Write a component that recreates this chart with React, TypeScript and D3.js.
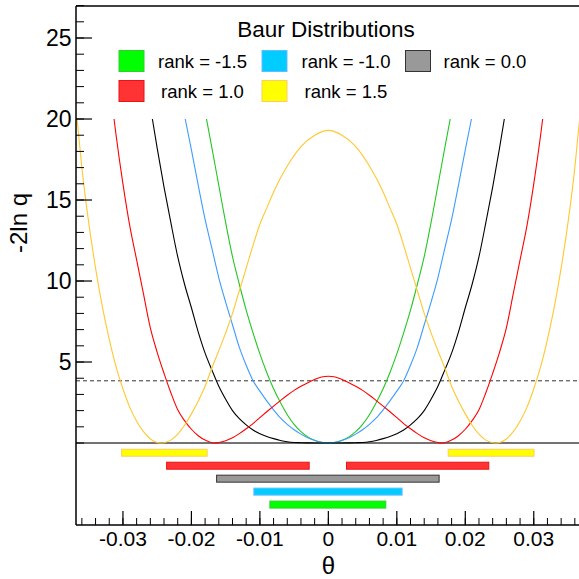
import React from 'react'
import * as d3 from 'd3'

/* canvas 579 x 579, frame runs off the right edge like the original */
const width = 579
const height = 579
const frame = { left: 76, top: 6, bottom: 525, right: 581 }
const font = '"Liberation Sans", Arial, Helvetica, sans-serif'

/* -2ln q curves, [theta, value] */
const rankM15: [number, number][] = [
    [-0.0178, 20], [-0.017, 18.2], [-0.016, 15.9], [-0.015, 13.6], [-0.014, 11.5], [-0.013, 9.8],
    [-0.012, 8.2], [-0.011, 6.8], [-0.01, 5.5], [-0.009, 4.35], [-0.008, 3.35], [-0.007, 2.5],
    [-0.006, 1.75], [-0.005, 1.15], [-0.004, 0.7], [-0.003, 0.38], [-0.002, 0.17], [-0.001, 0.04],
    [0, 0],
    [0.001, 0.04], [0.002, 0.17], [0.003, 0.38], [0.004, 0.7], [0.005, 1.15], [0.006, 1.75],
    [0.007, 2.5], [0.008, 3.35], [0.009, 4.35], [0.01, 5.5], [0.011, 6.8], [0.012, 8.2],
    [0.013, 9.8], [0.014, 11.5], [0.015, 13.6], [0.016, 15.9], [0.017, 18.2], [0.0178, 20],
]
const rankM10: [number, number][] = [
    [-0.0209, 20], [-0.02, 18.1], [-0.019, 15.9], [-0.018, 13.8], [-0.017, 12.0], [-0.016, 10.2],
    [-0.015, 8.7], [-0.014, 7.3], [-0.013, 5.9], [-0.012, 4.8], [-0.011, 3.85], [-0.01, 3.2],
    [-0.009, 2.6], [-0.008, 2.05], [-0.007, 1.55], [-0.006, 1.15], [-0.005, 0.82], [-0.004, 0.55],
    [-0.003, 0.33], [-0.002, 0.16], [-0.001, 0.04], [0, 0],
    [0.001, 0.04], [0.002, 0.16], [0.003, 0.33], [0.004, 0.55], [0.005, 0.82], [0.006, 1.15],
    [0.007, 1.55], [0.008, 2.05], [0.009, 2.6], [0.01, 3.2], [0.011, 3.85], [0.012, 4.8],
    [0.013, 5.9], [0.014, 7.3], [0.015, 8.7], [0.016, 10.2], [0.017, 12.0], [0.018, 13.8],
    [0.019, 15.9], [0.02, 18.1], [0.0209, 20],
]
const rank00: [number, number][] = [
    [-0.0257, 20], [-0.025, 18.2], [-0.024, 15.8], [-0.023, 13.6], [-0.022, 11.5], [-0.021, 9.8],
    [-0.02, 8.35], [-0.019, 6.85], [-0.018, 5.55], [-0.017, 4.5], [-0.016, 3.5], [-0.015, 2.7],
    [-0.014, 2.0], [-0.013, 1.5], [-0.012, 1.12], [-0.011, 0.8], [-0.01, 0.57], [-0.009, 0.4],
    [-0.008, 0.27], [-0.007, 0.16], [-0.006, 0.08], [-0.005, 0.035], [-0.004, 0.02], [-0.003, 0.01],
    [-0.002, 0.003], [0, 0], [0.002, 0.003], [0.003, 0.01], [0.004, 0.02], [0.005, 0.035],
    [0.006, 0.08], [0.007, 0.16], [0.008, 0.27], [0.009, 0.4], [0.01, 0.57], [0.011, 0.8],
    [0.012, 1.12], [0.013, 1.5], [0.014, 2.0], [0.015, 2.7], [0.016, 3.5], [0.017, 4.5],
    [0.018, 5.55], [0.019, 6.85], [0.02, 8.35], [0.021, 9.8], [0.022, 11.5], [0.023, 13.6],
    [0.024, 15.8], [0.025, 18.2], [0.0257, 20],
]
const rankP10: [number, number][] = [
    [-0.0313, 20], [-0.031, 19.0], [-0.03, 16.0], [-0.029, 13.4], [-0.028, 11.3], [-0.027, 9.2],
    [-0.026, 7.1], [-0.025, 5.6], [-0.024, 4.3], [-0.023, 3.1], [-0.022, 2.05], [-0.021, 1.38],
    [-0.02, 0.85], [-0.019, 0.45], [-0.018, 0.18], [-0.017, 0.02], [-0.0166, 0], [-0.016, 0.03],
    [-0.015, 0.14], [-0.014, 0.32], [-0.013, 0.58], [-0.012, 0.88], [-0.011, 1.2], [-0.01, 1.57],
    [-0.009, 1.93], [-0.008, 2.28], [-0.007, 2.62], [-0.006, 2.95], [-0.005, 3.25], [-0.004, 3.5],
    [-0.003, 3.72], [-0.002, 3.92], [-0.001, 4.08], [0, 4.12],
    [0.001, 4.08], [0.002, 3.92], [0.003, 3.72], [0.004, 3.5], [0.005, 3.25], [0.006, 2.95],
    [0.007, 2.62], [0.008, 2.28], [0.009, 1.93], [0.01, 1.57], [0.011, 1.2], [0.012, 0.88],
    [0.013, 0.58], [0.014, 0.32], [0.015, 0.14], [0.016, 0.03], [0.0166, 0], [0.017, 0.02],
    [0.018, 0.18], [0.019, 0.45], [0.02, 0.85], [0.021, 1.38], [0.022, 2.05], [0.023, 3.1],
    [0.024, 4.3], [0.025, 5.6], [0.026, 7.1], [0.027, 9.2], [0.028, 11.3], [0.029, 13.4],
    [0.03, 16.0], [0.031, 19.0], [0.0313, 20],
]
const rankP15: [number, number][] = [
    [-0.0367, 20], [-0.036, 17.0], [-0.035, 13.6], [-0.034, 10.8], [-0.033, 8.4], [-0.032, 6.4],
    [-0.031, 4.7], [-0.03, 3.35], [-0.029, 2.2], [-0.028, 1.35], [-0.027, 0.7], [-0.026, 0.25],
    [-0.025, 0.03], [-0.0245, 0], [-0.024, 0.02], [-0.023, 0.18], [-0.022, 0.55], [-0.021, 1.1],
    [-0.02, 1.8], [-0.019, 2.6], [-0.018, 3.5], [-0.017, 4.65], [-0.016, 5.7], [-0.015, 6.8],
    [-0.014, 8.0], [-0.013, 9.4], [-0.012, 10.8], [-0.011, 12.2], [-0.01, 13.5], [-0.009, 14.5],
    [-0.008, 15.5], [-0.006, 17.1], [-0.004, 18.3], [-0.002, 19.0], [0, 19.3],
    [0.002, 19.0], [0.004, 18.3], [0.006, 17.1], [0.008, 15.5], [0.009, 14.5], [0.01, 13.5],
    [0.011, 12.2], [0.012, 10.8], [0.013, 9.4], [0.014, 8.0], [0.015, 6.8], [0.016, 5.7],
    [0.017, 4.65], [0.018, 3.5], [0.019, 2.6], [0.02, 1.8], [0.021, 1.1], [0.022, 0.55],
    [0.023, 0.18], [0.024, 0.02], [0.0245, 0], [0.025, 0.03], [0.026, 0.25], [0.027, 0.7],
    [0.028, 1.35], [0.029, 2.2], [0.03, 3.35], [0.031, 4.7], [0.032, 6.4], [0.033, 8.4],
    [0.034, 10.8], [0.035, 13.6], [0.036, 17.0], [0.0367, 20],
]

/* 95% intervals (where -2ln q < 3.84) shown as bars under the axis */
const intervalsM15 = [[-0.00854, 0.00839]]
const intervalsM10 = [[-0.01088, 0.01077]]
const intervals00 = [[-0.01632, 0.01618]]
const intervalsP10 = [[-0.02362, -0.0028], [0.00265, 0.02343]]
const intervalsP15 = [[-0.0302, -0.0177], [0.0175, 0.03004]]

const rankLabels = ['rank = -1.5', 'rank = -1.0', 'rank = 0.0', 'rank = 1.0', 'rank = 1.5']
const threshold = 3.84

const series = [
    { label: rankLabels[0], data: rankM15, bars: intervalsM15, line: '#22c822', fill: '#00ff00', edge: '#33cc33' },
    { label: rankLabels[1], data: rankM10, bars: intervalsM10, line: '#3d9cff', fill: '#00ccff', edge: '#66bbff' },
    { label: rankLabels[2], data: rank00, bars: intervals00, line: '#000000', fill: '#999999', edge: '#333333' },
    { label: rankLabels[3], data: rankP10, bars: intervalsP10, line: '#ff0000', fill: '#ff3333', edge: '#ee1111' },
    { label: rankLabels[4], data: rankP15, bars: intervalsP15, line: '#ffc830', fill: '#ffff00', edge: '#ffcc66' },
]

const xMajor = [-0.03, -0.02, -0.01, 0, 0.01, 0.02, 0.03]
const xLabels = ['-0.03', '-0.02', '-0.01', '0', '0.01', '0.02', '0.03']
const yMajor = [5, 10, 15, 20, 25]

/* legend slots: box left / text centre per column, row tops */
const legendCols = [119, 262, 405.5]
const legendTextCols = [202.5, 346, 485]
const legendRows = [50.5, 80.5]

export default function App() {
    const x = d3.scaleLinear().domain([-0.0369, 0.0369]).range([frame.left - 0.3, frame.right])
    const y = d3.scaleLinear().domain([-5.06, 27]).range([frame.bottom, 5.6])

    const line = d3
        .line<[number, number]>()
        .x((d) => x(d[0]))
        .y((d) => y(d[1]))
        .curve(d3.curveMonotoneX)

    const xMinor = d3.range(-0.036, 0.03601, 0.002)
    const yMinor = d3.range(0, 28, 1)

    /* bar rows below zero: top row is the last series */
    const barRow = d3
        .scalePoint<string>()
        .domain(rankLabels.slice().reverse())
        .range([y(-0.6), y(-3.8)])
    const barH = 7

    return (
        <svg
            width={width}
            height={height}
            style={{ position: 'absolute', left: 0, top: 0, background: '#fff' }}
            fontFamily={font}
        >
            <defs>
                <clipPath id="plotArea">
                    <rect x={frame.left} y={frame.top} width={width - frame.left} height={frame.bottom - frame.top} />
                </clipPath>
            </defs>

            {/* zero line and 3.84 threshold */}
            <line x1={frame.left} x2={width} y1={y(0)} y2={y(0)} stroke="#444" strokeWidth={1.6} />
            <line
                x1={frame.left}
                x2={width}
                y1={y(threshold)}
                y2={y(threshold)}
                stroke="#333"
                strokeWidth={1}
                strokeDasharray="4,3"
            />

            {/* curves */}
            <g clipPath="url(#plotArea)">
                {series.map((s, i) => (
                    <path key={i} d={line(s.data) || ''} fill="none" stroke={s.line} strokeWidth={1.1} />
                ))}
            </g>

            {/* interval bars */}
            {series.map((s, i) =>
                s.bars.map((b, j) => (
                    <rect
                        key={`${i}-${j}`}
                        x={x(b[0])}
                        y={(barRow(s.label) || 0) - barH / 2}
                        width={x(b[1]) - x(b[0])}
                        height={barH}
                        fill={s.fill}
                        stroke={s.edge}
                        strokeWidth={1}
                    />
                ))
            )}

            {/* frame */}
            <line x1={frame.left} x2={width} y1={frame.top} y2={frame.top} stroke="#000" strokeWidth={1.5} />
            <line x1={frame.left} x2={frame.left} y1={frame.top} y2={frame.bottom} stroke="#000" strokeWidth={1.5} />
            <line x1={frame.left} x2={width} y1={frame.bottom} y2={frame.bottom} stroke="#000" strokeWidth={1.5} />

            {/* x ticks */}
            {xMinor.map((t, i) => (
                <line key={i} x1={x(t)} x2={x(t)} y1={frame.bottom} y2={frame.bottom - 7} stroke="#000" strokeWidth={1} />
            ))}
            {xMajor.map((t, i) => (
                <g key={i}>
                    <line x1={x(t)} x2={x(t)} y1={frame.bottom} y2={frame.bottom - 14} stroke="#000" strokeWidth={1.2} />
                    <text x={x(t)} y={545.5} fontSize={21} textAnchor="middle">
                        {xLabels[i]}
                    </text>
                </g>
            ))}
            <text x={x(0)} y={574} fontSize={24} textAnchor="middle">
                θ
            </text>

            {/* y ticks */}
            {yMinor.map((t, i) => (
                <line key={i} x1={frame.left} x2={frame.left + 8} y1={y(t)} y2={y(t)} stroke="#000" strokeWidth={1} />
            ))}
            {yMajor.map((t, i) => (
                <g key={i}>
                    <line x1={frame.left} x2={frame.left + 16} y1={y(t)} y2={y(t)} stroke="#000" strokeWidth={1.2} />
                    <text x={71.5} y={y(t)} dy="0.36em" fontSize={23} textAnchor="end">
                        {t}
                    </text>
                </g>
            ))}
            <text transform="translate(27,223) rotate(-90)" fontSize={24} textAnchor="middle">
                -2ln q
            </text>

            {/* legend */}
            <text x={326} y={37.3} fontSize={22.5} textAnchor="middle">
                Baur Distributions
            </text>
            {series.map((s, i) => {
                const col = i % 3
                const row = Math.floor(i / 3)
                return (
                    <g key={i}>
                        <rect
                            x={legendCols[col]}
                            y={legendRows[row]}
                            width={25}
                            height={21}
                            fill={s.fill}
                            stroke={s.edge}
                            strokeWidth={1}
                        />
                        <text x={legendTextCols[col]} y={legendRows[row] + 17.5} fontSize={18.5} textAnchor="middle">
                            {s.label}
                        </text>
                    </g>
                )
            })}
        </svg>
    )
}
